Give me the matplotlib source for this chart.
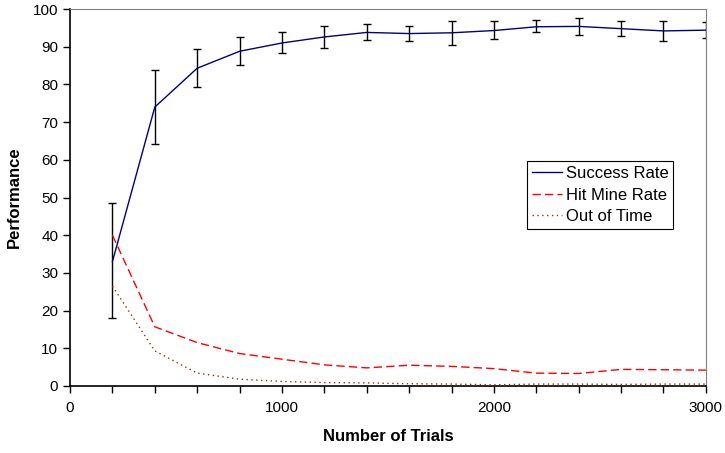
import matplotlib
matplotlib.use("Agg")
import matplotlib.pyplot as plt

plt.rcParams["font.family"] = ["Liberation Sans", "DejaVu Sans"]

# Valores.
trials = [200, 400, 600, 800, 1000, 1200, 1400, 1600, 1800, 2000, 2200, 2400, 2600, 2800, 3000]
success = [33.0, 74.0, 84.3, 88.8, 91.0, 92.6, 93.8, 93.5, 93.7, 94.3, 95.3, 95.4, 94.8, 94.2, 94.4]
success_low = [18.0, 64.3, 79.4, 85.1, 88.4, 89.8, 91.8, 91.5, 90.5, 92.0, 94.0, 93.0, 92.9, 91.5, 92.3]
success_high = [48.5, 83.9, 89.3, 92.5, 94.0, 95.5, 96.0, 95.5, 96.9, 96.7, 97.0, 97.7, 96.8, 96.9, 96.6]
hit_mine = [40.0, 15.7, 11.5, 8.6, 7.1, 5.6, 4.8, 5.5, 5.2, 4.6, 3.4, 3.3, 4.4, 4.3, 4.2]
out_of_time = [26.5, 9.3, 3.4, 1.8, 1.2, 0.9, 0.8, 0.6, 0.5, 0.3, 0.5, 0.5, 0.4, 0.5, 0.5]

err_low = [s - lo for s, lo in zip(success, success_low)]
err_high = [hi - s for s, hi in zip(success, success_high)]

fig = plt.figure(figsize=(7.25, 4.53), dpi=100)
ax = fig.add_axes([0.0966, 0.148, 0.877, 0.832])

ax.errorbar(trials, success, yerr=[err_low, err_high], fmt="none",
            ecolor="black", elinewidth=1.0, capsize=3, capthick=1.0, zorder=2)
ax.plot(trials, success, color="#000080", linewidth=1.0, label="Success Rate", zorder=3)
ax.plot(trials, hit_mine, color="#FF0000", linewidth=1.0, linestyle=(0, (6, 3)),
        label="Hit Mine Rate", zorder=3)
ax.plot(trials, out_of_time, color="#993300", linewidth=1.0, linestyle=(0, (1, 2.5)),
        label="Out of Time", zorder=3)

ax.set_xlim(0, 3000)
ax.set_ylim(0, 100)
ax.set_xticks(range(0, 3001, 1000))
ax.set_xticks(range(0, 3001, 200), minor=True)
ax.set_yticks(range(0, 101, 10))
ax.tick_params(axis="both", which="both", direction="out", labelsize=11, width=1.0)
ax.tick_params(axis="both", which="major", length=5)
ax.tick_params(axis="x", which="minor", length=5)
ax.tick_params(axis="x", which="major", pad=6)

for side in ["top", "right"]:
    ax.spines[side].set_color("#808080")
for side in ["left", "bottom"]:
    ax.spines[side].set_color("black")
    ax.spines[side].set_linewidth(1.2)

ax.set_xlabel("Number of Trials", fontsize=12, fontweight="bold", labelpad=10)
ax.set_ylabel("Performance", fontsize=12, fontweight="bold", labelpad=8)

leg = ax.legend(loc="upper left", bbox_to_anchor=(0.719, 0.597), fontsize=12,
                frameon=True, fancybox=False, edgecolor="black", framealpha=1,
                handlelength=1.8, borderpad=0.3, labelspacing=0.4, handletextpad=0.2,
                borderaxespad=0)
leg.get_frame().set_linewidth(0.8)

fig.savefig("out.png", dpi=100)
